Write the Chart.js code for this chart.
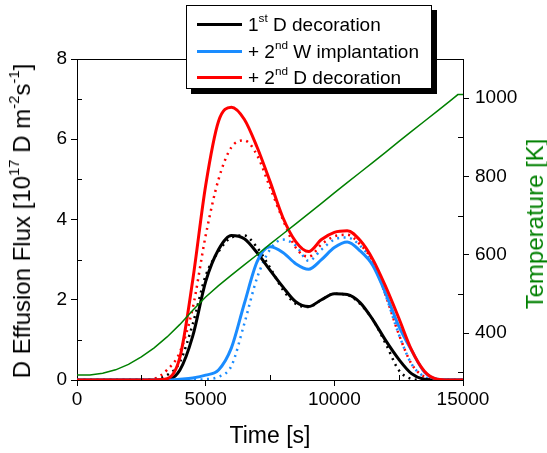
<!DOCTYPE html>
<html lang="en">
<head>
<meta charset="UTF-8">
<title>D Effusion Flux</title>
<script src="https://cdn.jsdelivr.net/npm/chart.js"></script>
<style>
  body { margin: 0; background: #fff; }
  #wrap { position: relative; width: 547px; height: 453px; font-family: 'Liberation Sans', Arial, sans-serif; }
  #leftTitle { position: absolute; left: 22px; top: 221px; transform: translate(-50%, -50%) rotate(-90deg); white-space: nowrap; font-size: 24px; line-height: 1; color: #000; }
  #rightTitle { position: absolute; left: 535px; top: 224px; transform: translate(-50%, -50%) rotate(-90deg); white-space: nowrap; font-size: 24px; line-height: 1; color: #008000; }
  sup { font-size: 62%; line-height: 0; vertical-align: 0.75em; }
  #legend { position: absolute; left: 186px; top: 5px; width: 244px; height: 82px; border: 1px solid #000; background: #fff; box-shadow: 5px 5px 0 #000; }
  .row { position: absolute; left: 0; height: 24px; font-size: 19px; line-height: 24px; white-space: nowrap; }
  .row span.ln { position: absolute; left: 10px; top: 10px; width: 45px; height: 3px; }
  .row span.tx { position: absolute; left: 61px; top: 0; }
</style>
</head>
<body>
<div id="wrap">
  <canvas id="myChart" width="547" height="453"></canvas>
  <div id="leftTitle">D Effusion Flux [10<sup>17</sup> D m<sup>-2</sup>s<sup>-1</sup>]</div>
  <div id="rightTitle">Temperature [K]</div>
  <div id="legend">
    <div class="row" style="top: 7px;"><span class="ln" style="background:#000;"></span><span class="tx">1<sup>st</sup> D decoration</span></div>
    <div class="row" style="top: 34px;"><span class="ln" style="background:#1a8cff;"></span><span class="tx">+ 2<sup>nd</sup> W implantation</span></div>
    <div class="row" style="top: 60px;"><span class="ln" style="background:#ff0000;"></span><span class="tx">+ 2<sup>nd</sup> D decoration</span></div>
  </div>
</div>

<script>
// time grid for the flux curves [s]
var fluxTime = [0, 2500, 3000, 3500, 4000, 4500, 5000, 5500, 6000, 6500, 7000, 7500, 8000, 8500,
  9000, 9500, 10000, 10500, 11000, 11500, 12000, 12500, 13000, 13500, 14000, 14500, 15000];

// flux [1e17 D m-2 s-1], solid = measured, dotted = fit
var firstDSolid = [0, 0, 0, 0.01, 0.25, 1.1, 2.45, 3.25, 3.6, 3.52, 3.17, 2.74, 2.32, 1.95, 1.83, 2.0, 2.15, 2.13, 1.93, 1.5, 0.98, 0.52, 0.16, 0.02, 0, 0, 0];
var firstDDotted = [0, 0, 0.02, 0.12, 0.45, 1.4, 2.6, 3.2, 3.55, 3.6, 3.3, 2.8, 2.25, 1.9, 1.82, 2.0, 2.15, 2.12, 1.9, 1.5, 0.9, 0.25, 0.03, 0, 0, 0, 0];
var wImplSolid = [0, 0, 0, 0, 0.02, 0.05, 0.12, 0.25, 0.8, 1.9, 2.95, 3.32, 3.18, 2.9, 2.76, 3.0, 3.3, 3.44, 3.22, 2.85, 2.15, 1.35, 0.74, 0.2, 0.02, 0, 0];
var wImplDotted = [0, 0, 0, 0, 0, 0.01, 0.02, 0.08, 0.35, 1.4, 2.55, 3.25, 3.5, 3.35, 2.97, 3.25, 3.5, 3.55, 3.35, 2.92, 2.1, 1.15, 0.4, 0.08, 0, 0, 0];
var secondDSolid = [0, 0, 0, 0.03, 0.57, 2.5, 4.85, 6.45, 6.8, 6.5, 5.8, 4.95, 4.05, 3.45, 3.2, 3.5, 3.68, 3.72, 3.48, 3.0, 2.32, 1.55, 0.75, 0.22, 0.02, 0, 0];
var secondDDotted = [0, 0, 0.03, 0.25, 0.7, 1.8, 3.6, 5.0, 5.8, 5.97, 5.6, 4.8, 4.0, 3.3, 3.07, 3.38, 3.58, 3.62, 3.38, 2.95, 2.1, 1.15, 0.4, 0.08, 0, 0, 0];

// sample temperature [K]
var tempTime = [0, 500, 1000, 1500, 2000, 2500, 3000, 3500, 4000, 4500, 5000, 5500, 6000, 6500, 7000, 7500,
  8000, 8500, 9000, 9500, 10000, 10500, 11000, 11500, 12000, 12500, 13000, 13500, 14000, 14500, 14800, 15000];
var tempK = [293, 293, 297, 306, 320, 339, 362, 390, 422, 458, 492, 521, 548, 574, 600, 627,
  653, 679, 705, 731, 758, 784, 810, 836, 862, 889, 915, 941, 967, 993, 1009, 1009];

// tick values
var xTicks = [0, 5000, 10000, 15000];
var yTicks = [0, 2, 4, 6, 8];
var tTicks = [400, 600, 800, 1000];
var xMinor = [2500, 7500, 12500];
var yMinor = [1, 3, 5, 7];
var tMinor = [300, 500, 700, 900];

function pts(xs, ys) {
  return xs.map(function (x, i) { return { x: x, y: ys[i] }; });
}

Chart.defaults.font.family = "'Liberation Sans', Arial, sans-serif";
Chart.defaults.color = '#000';

function curve(data, color, dotted, order) {
  return {
    data: pts(fluxTime, data),
    borderColor: color,
    borderWidth: dotted ? 2.5 : 3,
    borderDash: dotted ? [2, 4.5] : [],
    pointRadius: 0,
    fill: false,
    cubicInterpolationMode: 'monotone',
    yAxisID: 'y',
    order: order
  };
}

// inward minor ticks + top frame line
var framePlugin = {
  id: 'frame',
  afterDraw: function (chart) {
    var ctx = chart.ctx, a = chart.chartArea, s = chart.scales;
    ctx.save();
    ctx.strokeStyle = '#000';
    ctx.lineWidth = 1;
    ctx.beginPath();
    ctx.moveTo(a.left, a.top + 0.5);
    ctx.lineTo(a.right, a.top + 0.5);
    xMinor.forEach(function (v) {
      var px = Math.round(s.x.getPixelForValue(v)) + 0.5;
      ctx.moveTo(px, a.bottom); ctx.lineTo(px, a.bottom - 5);
    });
    yMinor.forEach(function (v) {
      var py = Math.round(s.y.getPixelForValue(v)) + 0.5;
      ctx.moveTo(a.left, py); ctx.lineTo(a.left + 5, py);
    });
    tMinor.forEach(function (v) {
      var py = Math.round(s.y2.getPixelForValue(v)) + 0.5;
      ctx.moveTo(a.right, py); ctx.lineTo(a.right - 5, py);
    });
    ctx.stroke();
    ctx.restore();
  }
};

var axisGrid = { drawOnChartArea: false, tickLength: 6, color: '#000', lineWidth: 1 };
var tickFont = { size: 19 };
function plain(v) { return String(v); }

var config = {
  type: 'line',
  data: {
    datasets: [
      curve(firstDSolid, '#000000', false, 3),
      curve(firstDDotted, '#000000', true, 6),
      curve(wImplSolid, '#1a8cff', false, 2),
      curve(wImplDotted, '#1a8cff', true, 5),
      curve(secondDSolid, '#ff0000', false, 1),
      curve(secondDDotted, '#ff0000', true, 4),
      {
        data: pts(tempTime, tempK),
        borderColor: '#008000',
        borderWidth: 1.5,
        pointRadius: 0,
        fill: false,
        yAxisID: 'y2',
        order: 0
      }
    ]
  },
  options: {
    responsive: false,
    animation: false,
    layout: { padding: { top: 59, left: 0, right: 0, bottom: 0 } },
    plugins: { legend: { display: false }, tooltip: { enabled: false } },
    scales: {
      x: {
        type: 'linear', min: 0, max: 15000,
        afterBuildTicks: function (sc) { sc.ticks = xTicks.map(function (v) { return { value: v }; }); },
        afterFit: function (sc) { sc.height = 73; },
        ticks: { font: tickFont, padding: 2, maxRotation: 0, callback: plain },
        grid: axisGrid,
        border: { color: '#000', width: 1 },
        title: { display: true, text: 'Time [s]', font: { size: 23 }, padding: { top: 0, bottom: 3 } }
      },
      y: {
        type: 'linear', position: 'left', min: 0, max: 8,
        afterBuildTicks: function (sc) { sc.ticks = yTicks.map(function (v) { return { value: v }; }); },
        afterFit: function (sc) { sc.width = 77; },
        ticks: { font: tickFont, padding: 4, callback: plain },
        grid: axisGrid,
        border: { color: '#000', width: 1 }
      },
      y2: {
        type: 'linear', position: 'right', min: 280, max: 1100,
        afterBuildTicks: function (sc) { sc.ticks = tTicks.map(function (v) { return { value: v }; }); },
        afterFit: function (sc) { sc.width = 84; },
        ticks: { font: tickFont, padding: 6, callback: plain },
        grid: axisGrid,
        border: { color: '#000', width: 1 }
      }
    }
  },
  plugins: [framePlugin]
};

new Chart(document.getElementById('myChart').getContext('2d'), config);
</script>
</body>
</html>
